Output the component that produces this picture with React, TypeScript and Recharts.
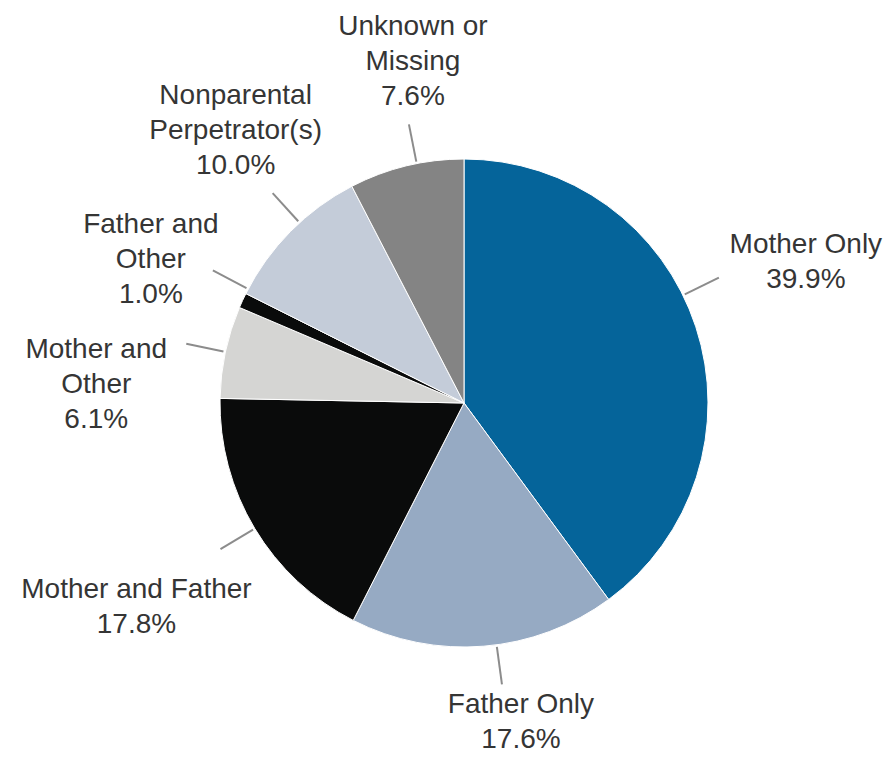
import React from "react";
import { PieChart, Pie, Cell } from "recharts";

const CATEGORIES = [
  "Mother Only",
  "Father Only",
  "Mother and Father",
  "Mother and Other",
  "Father and Other",
  "Nonparental Perpetrator(s)",
  "Unknown or Missing",
];
const VALUES = [39.9, 17.6, 17.8, 6.1, 1.0, 10.0, 7.6];
const LABEL_LINES = [
  ["Mother Only"],
  ["Father Only"],
  ["Mother and Father"],
  ["Mother and", "Other"],
  ["Father and", "Other"],
  ["Nonparental", "Perpetrator(s)"],
  ["Unknown or", "Missing"],
];
const COLORS = ["#05649a", "#96aac3", "#0a0b0b", "#d5d5d3", "#0a0b0b", "#c4ccd9", "#848484"];

// label layout: leader angle shift (deg), text offset from leader end
const LABEL_LAYOUT = [
  { shift: 8, dx: 87, dy: -25 },
  { shift: 3, dx: 19, dy: 29 },
  { shift: 0, dx: -84, dy: 49 },
  { shift: 0, dx: -90, dy: 14 },
  { shift: -3, dx: -62, dy: -37 },
  { shift: -3, dx: -37, dy: -89 },
  { shift: -2.5, dx: 4, dy: -89 },
];

const data = CATEGORIES.map((name, i) => ({ name, value: VALUES[i] }));

const RAD = Math.PI / 180;
const LINE_H = 35;

const renderLabel = (props: any) => {
  const { cx, cy, midAngle, outerRadius, index } = props;
  const lay = LABEL_LAYOUT[index];
  const a = (midAngle + lay.shift) * RAD;
  const r1 = outerRadius + 2;
  const r2 = outerRadius + 40;
  const x1 = cx + r1 * Math.cos(a);
  const y1 = cy - r1 * Math.sin(a);
  const x2 = cx + r2 * Math.cos(a);
  const y2 = cy - r2 * Math.sin(a);
  const lines = [...LABEL_LINES[index], `${VALUES[index].toFixed(1)}%`];
  const tx = x2 + lay.dx;
  const ty = y2 + lay.dy;
  return (
    <g key={`lbl-${index}`}>
      <line x1={x1} y1={y1} x2={x2} y2={y2} stroke="#8c8c8c" strokeWidth={2} />
      <text
        x={tx}
        y={ty}
        textAnchor="middle"
        fill="#353535"
        fontSize={28}
        fontFamily="'Liberation Sans', Arial, sans-serif"
      >
        {lines.map((l, k) => (
          <tspan key={k} x={tx} y={ty + k * LINE_H}>
            {l}
          </tspan>
        ))}
      </text>
    </g>
  );
};

export default function App() {
  return (
    <div style={{ position: "absolute", left: 0, top: 0, background: "#fff" }}>
      <PieChart width={891} height={757} margin={{ top: 0, right: 0, bottom: 0, left: 0 }}>
        <Pie
          data={data}
          dataKey="value"
          nameKey="name"
          cx={464}
          cy={403}
          outerRadius={244}
          startAngle={90}
          endAngle={-270}
          stroke="#ffffff"
          strokeWidth={1}
          label={renderLabel}
          labelLine={false}
          isAnimationActive={false}
        >
          {data.map((d, i) => (
            <Cell key={d.name} fill={COLORS[i]} />
          ))}
        </Pie>
      </PieChart>
    </div>
  );
}
